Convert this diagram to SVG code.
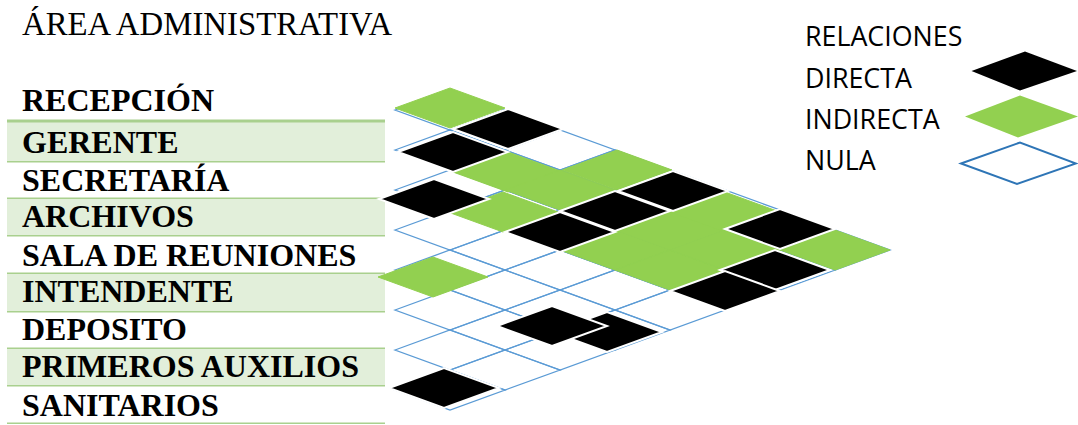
<svg xmlns="http://www.w3.org/2000/svg" xmlns:xlink="http://www.w3.org/1999/xlink" width="1078" height="425" viewBox="0 0 1078 425">
<style>
.t{font-family:"Liberation Serif","Times New Roman",serif;fill:#000}
.title{font-size:32.8px}
.lbl{font-size:32px;font-weight:bold}
.lg{font-family:"Open Sans","Noto Sans",sans-serif;font-size:26.8px;fill:#000}
.band{fill:#E2EFDA}
.rule{stroke:#A9D08E;stroke-width:1.5}
.grid{fill:none;stroke:#5B9BD5;stroke-width:1.3}
.g{fill:#92D050;stroke:#92D050;stroke-width:1}
.b{fill:#000;stroke:#fff;stroke-width:2}
</style>
<defs>
<path id="cell" d="M-55 0L0-20L55 0L0 20Z"/>
</defs>
<rect width="1078" height="425" fill="#fff"/>
<text class="t title" x="22" y="35">ÁREA ADMINISTRATIVA</text>

<g id="rows">
<g id="row-recepcion"><text class="t lbl" x="22" y="111">RECEPCIÓN</text></g>
<g id="row-gerente"><rect class="band" x="7" y="121" width="378" height="40.7"/><text class="t lbl" x="22" y="153">GERENTE</text></g>
<g id="row-secretaria"><text class="t lbl" x="22" y="191">SECRETARÍA</text></g>
<g id="row-archivos"><rect class="band" x="7" y="198.3" width="378" height="37.4"/><text class="t lbl" x="22" y="227">ARCHIVOS</text></g>
<g id="row-sala"><text class="t lbl" x="22" y="266">SALA DE REUNIONES</text></g>
<g id="row-intendente"><rect class="band" x="7" y="273.3" width="378" height="38.4"/><text class="t lbl" x="22" y="302">INTENDENTE</text></g>
<g id="row-deposito"><text class="t lbl" x="22" y="340">DEPOSITO</text></g>
<g id="row-primeros"><rect class="band" x="7" y="348.3" width="378" height="37.4"/><text class="t lbl" x="22" y="377">PRIMEROS AUXILIOS</text></g>
<g id="row-sanitarios"><text class="t lbl" x="22" y="416">SANITARIOS</text></g>
<g id="rules">
<line x1="7" y1="121" x2="385" y2="121" stroke="#A9D08E" stroke-width="3"/>
<line class="rule" x1="7" y1="161.7" x2="385" y2="161.7"/>
<line class="rule" x1="7" y1="198.3" x2="385" y2="198.3"/>
<line class="rule" x1="7" y1="235.7" x2="385" y2="235.7"/>
<line class="rule" x1="7" y1="273.3" x2="385" y2="273.3"/>
<line class="rule" x1="7" y1="311.7" x2="385" y2="311.7"/>
<line class="rule" x1="7" y1="348.3" x2="385" y2="348.3"/>
<line class="rule" x1="7" y1="385.7" x2="385" y2="385.7"/>
<line class="rule" x1="7" y1="423.3" x2="385" y2="423.3"/>
</g>
</g>

<g id="grid">
<use xlink:href="#cell" class="grid" x="450" y="110"/>
<use xlink:href="#cell" class="grid" x="450" y="150"/>
<use xlink:href="#cell" class="grid" x="450" y="190"/>
<use xlink:href="#cell" class="grid" x="450" y="230"/>
<use xlink:href="#cell" class="grid" x="450" y="270"/>
<use xlink:href="#cell" class="grid" x="450" y="310"/>
<use xlink:href="#cell" class="grid" x="450" y="350"/>
<use xlink:href="#cell" class="grid" x="450" y="390"/>
<use xlink:href="#cell" class="grid" x="505" y="130"/>
<use xlink:href="#cell" class="grid" x="505" y="170"/>
<use xlink:href="#cell" class="grid" x="505" y="210"/>
<use xlink:href="#cell" class="grid" x="505" y="250"/>
<use xlink:href="#cell" class="grid" x="505" y="290"/>
<use xlink:href="#cell" class="grid" x="505" y="330"/>
<use xlink:href="#cell" class="grid" x="505" y="370"/>
<use xlink:href="#cell" class="grid" x="560" y="150"/>
<use xlink:href="#cell" class="grid" x="560" y="190"/>
<use xlink:href="#cell" class="grid" x="560" y="230"/>
<use xlink:href="#cell" class="grid" x="560" y="270"/>
<use xlink:href="#cell" class="grid" x="560" y="310"/>
<use xlink:href="#cell" class="grid" x="560" y="350"/>
<use xlink:href="#cell" class="grid" x="615" y="170"/>
<use xlink:href="#cell" class="grid" x="615" y="210"/>
<use xlink:href="#cell" class="grid" x="615" y="250"/>
<use xlink:href="#cell" class="grid" x="615" y="290"/>
<use xlink:href="#cell" class="grid" x="615" y="330"/>
<use xlink:href="#cell" class="grid" x="670" y="190"/>
<use xlink:href="#cell" class="grid" x="670" y="230"/>
<use xlink:href="#cell" class="grid" x="670" y="270"/>
<use xlink:href="#cell" class="grid" x="670" y="310"/>
<use xlink:href="#cell" class="grid" x="725" y="210"/>
<use xlink:href="#cell" class="grid" x="725" y="250"/>
<use xlink:href="#cell" class="grid" x="725" y="290"/>
<use xlink:href="#cell" class="grid" x="780" y="230"/>
<use xlink:href="#cell" class="grid" x="780" y="270"/>
<use xlink:href="#cell" class="grid" x="835" y="250"/>
</g>

<g id="indirect">
<use xlink:href="#cell" class="g" x="450" y="108"/>
<use xlink:href="#cell" class="g" x="508" y="172"/>
<use xlink:href="#cell" class="g" x="503" y="212"/>
<use xlink:href="#cell" class="g" x="560" y="190"/>
<use xlink:href="#cell" class="g" x="617" y="170"/>
<use xlink:href="#cell" class="g" x="615" y="250"/>
<use xlink:href="#cell" class="g" x="670" y="230"/>
<use xlink:href="#cell" class="g" x="670" y="270"/>
<use xlink:href="#cell" class="g" x="722" y="211"/>
<use xlink:href="#cell" class="g" x="725" y="250"/>
<use xlink:href="#cell" class="g" x="835" y="250"/>
<use xlink:href="#cell" class="g" x="433" y="277"/>
</g>

<g id="direct">
<use xlink:href="#cell" class="b" x="508" y="129"/>
<use xlink:href="#cell" class="b" x="453" y="152"/>
<use xlink:href="#cell" class="b" x="434" y="199"/>
<use xlink:href="#cell" class="b" x="673" y="191"/>
<use xlink:href="#cell" class="b" x="615" y="211"/>
<use xlink:href="#cell" class="b" x="560" y="232"/>
<use xlink:href="#cell" class="b" x="780" y="229"/>
<use xlink:href="#cell" class="b" x="775" y="270"/>
<use xlink:href="#cell" class="b" x="725" y="291"/>
<use xlink:href="#cell" class="b" x="607" y="332"/>
<use xlink:href="#cell" class="b" x="552" y="326"/>
<use xlink:href="#cell" class="b" x="444" y="388"/>
</g>

<g id="legend">
<text class="lg" x="805" y="46">RELACIONES</text>
<g id="legend-directa"><text class="lg" x="805" y="87.5">DIRECTA</text><polygon points="971.5,71 1025,51.5 1077,71 1020,90.5" fill="#000"/></g>
<g id="legend-indirecta"><text class="lg" x="805" y="128.5">INDIRECTA</text><polygon points="965,116.5 1020,95.5 1078,116.5 1018,137.5" fill="#92D050"/></g>
<g id="legend-nula"><text class="lg" x="805" y="170">NULA</text><polygon points="961,163.5 1020,142.5 1076,163.5 1017,184" fill="#fff" stroke="#2E75B6" stroke-width="2"/></g>
</g>
</svg>
